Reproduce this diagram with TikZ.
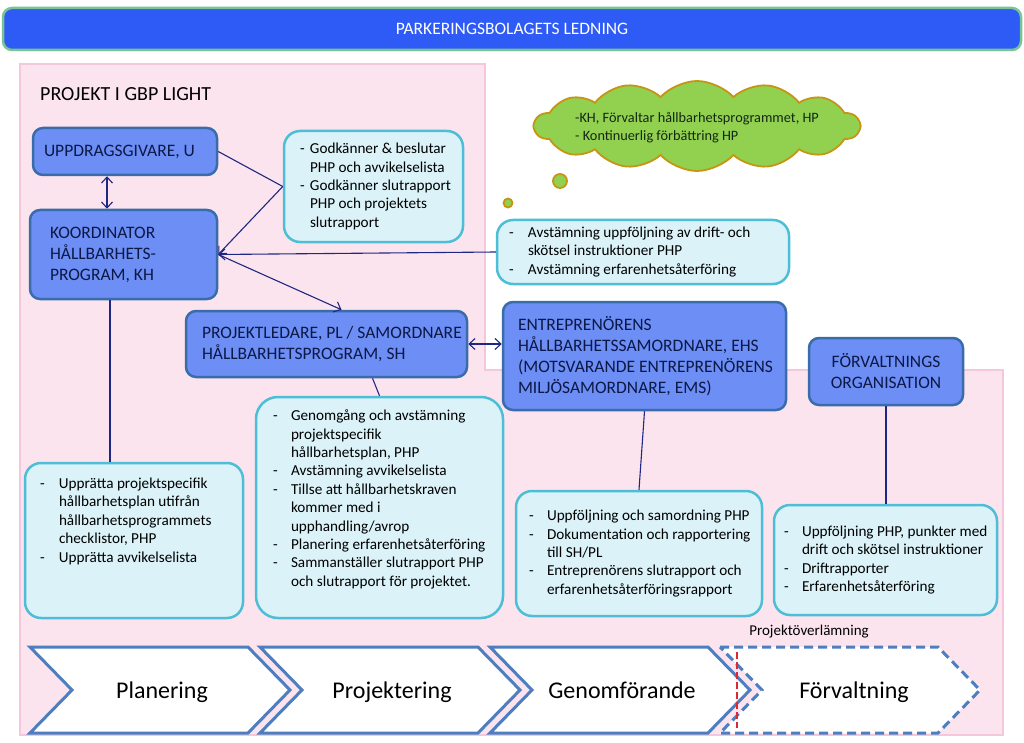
\documentclass[tikz,border=0pt]{standalone}
\usepackage{fontspec}
\setmainfont{Carlito}
\usetikzlibrary{shapes.symbols,arrows.meta,calc}
\definecolor{titlefill}{RGB}{46,90,245}
\definecolor{titlebord}{RGB}{120,196,150}
\definecolor{dfill}{RGB}{108,142,245}
\definecolor{dbord}{RGB}{58,108,170}
\definecolor{dtext}{RGB}{12,24,70}
\definecolor{lfill}{RGB}{218,242,248}
\definecolor{lbord}{RGB}{78,190,214}
\definecolor{pinkfill}{RGB}{252,228,238}
\definecolor{pinkbord}{RGB}{244,200,218}
\definecolor{cloudfill}{RGB}{146,208,80}
\definecolor{cloudbord}{RGB}{196,150,20}
\definecolor{cloudtext}{RGB}{20,40,20}
\definecolor{connc}{RGB}{30,40,130}
\definecolor{chevc}{RGB}{76,126,192}
\definecolor{redline}{RGB}{220,40,50}
\newcommand{\bxt}[5][c]{\parbox[c][#3][#1]{#2}{\setlength{\leftskip}{#4}\setlength{\rightskip}{-40pt plus 1fil}\setlength{\parindent}{0pt}#5\par}}
\newcommand{\itm}[2][19pt]{\par\hangindent=#1\relax\hangafter=1\relax\noindent\makebox[#1][l]{-}#2}
\begin{document}
\begin{tikzpicture}[x=1pt,y=-1pt,
  >={Straight Barb[length=6pt,width=11pt]},
  dbox/.style={draw=dbord,fill=dfill,line width=2.5pt,rounded corners=10pt,text=dtext,inner sep=0pt,font=\fontsize{17.5}{21}\selectfont},
  lbox/.style={draw=lbord,fill=lfill,line width=2.5pt,rounded corners=16pt,text=black,inner sep=0pt,font=\fontsize{15.2}{18.4}\selectfont},
  conn/.style={draw=connc,line width=1.1pt},
  chev/.style={draw=chevc,fill=white,line width=3pt,line join=miter},
  chevlabel/.style={font=\fontsize{24}{28}\selectfont,text=black,inner sep=0pt,anchor=base},
  puff/.style={circle,draw=cloudbord,fill=cloudfill,line width=1.8pt,inner sep=0pt}]
\useasboundingbox (0,0) rectangle (1024,743);
% background regions
\fill[white] (0,0) rectangle (1024,743);
\filldraw[fill=pinkfill,draw=pinkbord,line width=1.5pt] (20,64) -- (485,64) -- (485,370) -- (1003,370) -- (1003,735) -- (20,735) -- cycle;
% title bar
\node[draw=titlebord,fill=titlefill,line width=2.5pt,rounded corners=9pt,minimum width=1018pt,minimum height=42pt,text=white,font=\fontsize{17.5}{20}\selectfont] (title) at (512,29) {PARKERINGSBOLAGETS LEDNING};
\node[anchor=west,inner sep=0pt,font=\fontsize{20}{24}\selectfont,text=black] (proj) at (40,94) {PROJEKT I GBP LIGHT};
% dark boxes
\node[dbox] (U) at (125,151.5) {\bxt{184pt}{47pt}{11pt}{UPPDRAGSGIVARE, U}};
\node[dbox] (KH) at (123.5,254.5) {\bxt{187pt}{89pt}{20pt}{KOORDINATOR\newline HÅLLBARHETS-\newline PROGRAM, KH}};
\node[dbox] (PL) at (326.5,344) {\bxt{281pt}{66pt}{16pt}{PROJEKTLEDARE, PL / SAMORDNARE\newline HÅLLBARHETSPROGRAM, SH}};
\node[dbox] (EHS) at (644.5,356) {\bxt{283pt}{108pt}{15pt}{ENTREPRENÖRENS\newline HÅLLBARHETSSAMORDNARE, EHS\newline (MOTSVARANDE ENTREPRENÖRENS\newline MILJÖSAMORDNARE, EMS)}};
\node[dbox] (FO) at (886,371.5) {\parbox[c][67pt][c]{154pt}{\centering FÖRVALTNINGS\\ORGANISATION}};
% light boxes
\node[lbox] (G) at (373.5,186.5) {\bxt{179pt}{111pt}{16pt}{\itm[10pt]{Godkänner \& beslutar\newline PHP och avvikelselista}\itm[10pt]{Godkänner slutrapport\newline PHP och projektets\newline slutrapport}}};
\node[lbox] (A) at (643,252) {\bxt{292pt}{64pt}{12pt}{\itm{Avstämning uppföljning av drift- och\newline skötsel instruktioner PHP}\itm{Avstämning erfarenhetsåterföring}}};
\node[lbox] (UP) at (134,540.5) {\bxt[t]{218pt}{155pt}{15pt}{\vspace*{15pt}\itm{Upprätta projektspecifik\newline hållbarhetsplan utifrån\newline hållbarhetsprogrammets\newline checklistor, PHP}\itm{Upprätta avvikelselista}}};
\node[lbox,rounded corners=22pt] (GG) at (379.5,507.5) {\bxt[t]{247pt}{221pt}{17pt}{\vspace*{13pt}\itm[18pt]{Genomgång och avstämning\newline projektspecifik\newline hållbarhetsplan, PHP}\itm[18pt]{Avstämning avvikelselista}\itm[18pt]{Tillse att hållbarhetskraven\newline kommer med i\newline upphandling/avrop}\itm[18pt]{Planering erfarenhetsåterföring}\itm[18pt]{Sammanställer slutrapport PHP\newline och slutrapport för projektet.}}};
\node[lbox] (SO) at (639,553.5) {\bxt{246pt}{125pt}{13pt}{\itm[18pt]{Uppföljning och samordning PHP}\itm[18pt]{Dokumentation och rapportering\newline till SH/PL}\itm[18pt]{Entreprenörens slutrapport och\newline erfarenhetsåterföringsrapport}}};
\node[lbox] (PHP) at (885.5,560) {\bxt{223pt}{110pt}{10pt}{\itm[18pt]{Uppföljning PHP, punkter med\newline drift och skötsel instruktioner}\itm[18pt]{Driftrapporter}\itm[18pt]{Erfarenhetsåterföring}}};
% thought cloud
\node[cloud,cloud puffs=14,cloud puff arc=95,cloud ignores aspect,minimum width=325pt,minimum height=90pt,draw=cloudbord,fill=cloudfill,line width=1.8pt] (cl) at (697,126) {};
\node[align=left,inner sep=0pt,text=cloudtext,font=\fontsize{14.3}{18}\selectfont] (cltxt) at (697,128) {-KH, Förvaltar hållbarhetsprogrammet, HP\\- Kontinuerlig förbättring HP};
\node[puff,minimum size=14pt] (p1) at (560,181) {};
\node[puff,minimum size=9pt] (p2) at (508,203) {};
% connectors
\draw[conn,<->] ([xshift=-18pt]U.south) -- ([xshift=-18pt]U.south |- KH.north);
\draw[conn] (U.east) -- (G.west);
\draw[conn,->] (G.west) -- (KH.east);
\draw[conn,->] (A.west) -- (KH.east);
\draw[conn,->] (KH.east) -- ([xshift=15pt]PL.north);
\draw[conn] ([xshift=-13.5pt]KH.south) -- ([xshift=-13.5pt]KH.south |- UP.north);
\draw[conn] ([xshift=46pt]PL.south) -- (GG.north);
\draw[conn,<->] (PL.east) -- (PL.east -| EHS.west);
\draw[conn] (EHS.south) -- (SO.north);
\draw[conn] (FO.south) -- (FO.south |- PHP.north);
% phase chevrons
\draw[chev] (30,647) -- ++(218,0) -- ++(42,43) -- ++(-42,43) -- ++(-218,0) -- ++(42,-43) -- cycle;
\draw[chev] (260,647) -- ++(218,0) -- ++(42,43) -- ++(-42,43) -- ++(-218,0) -- ++(42,-43) -- cycle;
\draw[chev] (490,647) -- ++(218,0) -- ++(42,43) -- ++(-42,43) -- ++(-218,0) -- ++(42,-43) -- cycle;
\draw[chev,dash pattern=on 9pt off 5pt] (720,647) -- ++(218,0) -- ++(42,43) -- ++(-42,43) -- ++(-218,0) -- ++(42,-43) -- cycle;
\node[chevlabel] (ph1) at (162,698) {Planering};
\node[chevlabel] (ph2) at (392,698) {Projektering};
\node[chevlabel] (ph3) at (622,698) {Genomförande};
\node[chevlabel] (ph4) at (854,698) {Förvaltning};
\draw[draw=redline,line width=1.3pt,dash pattern=on 7pt off 3pt] (737,652) -- (737,728);
\node[inner sep=0pt,font=\fontsize{15}{17}\selectfont,text=black] (po) at (809,632) {Projektöverlämning};
\end{tikzpicture}
\end{document}
